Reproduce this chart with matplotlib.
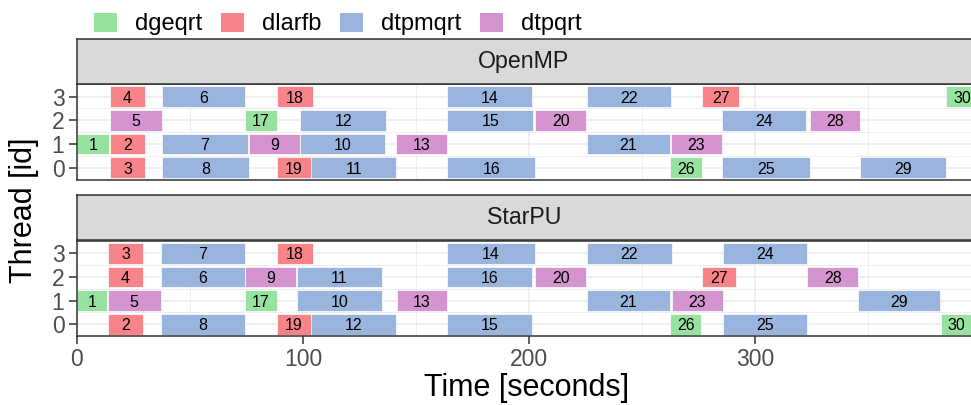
import matplotlib
matplotlib.use("Agg")
import matplotlib.pyplot as plt
from matplotlib.patches import Patch

plt.rcParams['font.family'] = ['Liberation Sans', 'DejaVu Sans']

kernels = ["dgeqrt", "dlarfb", "dtpmqrt", "dtpqrt"]
kernel_colors = ["#98E2A0", "#F8848A", "#9AB5DD", "#D394D0"]

# kernel of each task, task ids 1..30
task_kernel = ["dgeqrt", "dlarfb", "dlarfb", "dlarfb", "dtpqrt",
               "dtpmqrt", "dtpmqrt", "dtpmqrt", "dtpqrt", "dtpmqrt",
               "dtpmqrt", "dtpmqrt", "dtpqrt", "dtpmqrt", "dtpmqrt",
               "dtpmqrt", "dgeqrt", "dlarfb", "dlarfb", "dtpqrt",
               "dtpmqrt", "dtpmqrt", "dtpqrt", "dtpmqrt", "dtpmqrt",
               "dgeqrt", "dlarfb", "dtpqrt", "dtpmqrt", "dgeqrt"]

task_ids = list(range(1, 31))

# OpenMP run
openmp_thread = [1, 1, 0, 3, 2, 3, 1, 0, 1, 1,
                 0, 2, 1, 3, 2, 0, 2, 3, 0, 2,
                 1, 3, 1, 2, 0, 0, 3, 2, 0, 3]
openmp_start = [0.0, 14.6, 14.6, 14.6, 14.6, 37.7, 37.7, 37.7, 76.0, 98.9,
                103.7, 98.9, 141.3, 163.8, 163.8, 163.8, 74.4, 88.6, 88.6, 202.6,
                225.4, 225.4, 262.6, 285.3, 285.3, 262.5, 276.6, 324.1, 346.5, 384.5]
openmp_end = [14.5, 30.4, 30.4, 30.4, 37.8, 74.5, 75.6, 76.3, 98.9, 136.4,
              141.2, 136.9, 163.7, 201.5, 201.8, 202.8, 88.5, 104.3, 103.6, 225.3,
              262.4, 262.8, 285.2, 322.4, 324.0, 276.5, 292.8, 346.4, 384.4, 398.5]

# StarPU run
starpu_thread = [1, 0, 3, 2, 1, 2, 3, 0, 2, 1,
                 2, 0, 1, 3, 0, 2, 1, 3, 0, 2,
                 1, 3, 1, 3, 0, 0, 2, 2, 1, 0]
starpu_start = [0.0, 13.7, 13.7, 13.7, 13.7, 37.2, 37.2, 37.2, 74.6, 97.2,
                97.2, 103.8, 141.4, 163.7, 163.7, 163.7, 74.4, 88.6, 88.6, 202.8,
                225.4, 225.4, 263.2, 285.8, 285.8, 262.5, 276.3, 323.1, 345.4, 382.3]
starpu_end = [13.6, 29.5, 29.5, 29.5, 37.2, 74.4, 74.4, 74.5, 96.9, 135.2,
              134.9, 141.1, 163.7, 202.8, 201.4, 201.4, 88.5, 104.3, 103.6, 225.3,
              262.4, 263.1, 285.7, 322.8, 322.8, 276.2, 291.6, 345.4, 381.7, 395.6]

W, H = 971, 405
fig = plt.figure(figsize=(W / 100, H / 100), dpi=100)

L, R = 76.7, 971
def box(top, bottom):
    return [L / W, 1 - bottom / H, (R - L) / W, (bottom - top) / H]

edge = "#333333"
col_of = dict(zip(kernels, kernel_colors))

def draw_panel(ax, threads, starts, ends, bottom_axis):
    for tid, th, s, e in zip(task_ids, threads, starts, ends):
        ax.barh(th, e - s, left=s, height=0.88, color=col_of[task_kernel[tid - 1]],
                edgecolor="white", linewidth=0.5, zorder=2)
        ax.text((s + e) / 2, th, str(tid), ha="center", va="center_baseline",
                fontsize=11.5, color="black", zorder=3, clip_on=True)
    ax.set_xlim(0, 395.4)
    ax.set_ylim(-0.5, 3.55)
    ax.set_xticks([0, 100, 200, 300])
    ax.set_xticks([50, 150, 250, 350], minor=True)
    ax.set_yticks([0, 1, 2, 3])
    ax.set_yticks([0.5, 1.5, 2.5], minor=True)
    ax.set_axisbelow(True)
    ax.grid(True, which="major", color="#EBEBEB", linewidth=1.1)
    ax.grid(True, which="minor", color="#EBEBEB", linewidth=0.55)
    for side in ["left", "top", "bottom"]:
        ax.spines[side].set_color(edge)
        ax.spines[side].set_linewidth(1.1)
    ax.spines["right"].set_visible(False)
    ax.tick_params(which="minor", length=0)
    ax.tick_params(axis="y", which="major", length=5.8, width=1.1, color=edge,
                   labelcolor="#4D4D4D", labelsize=16.5, pad=3)
    if bottom_axis:
        ax.tick_params(axis="x", which="major", length=5.8, width=1.1, color=edge,
                       labelcolor="#4D4D4D", labelsize=16.5, pad=3)
    else:
        ax.tick_params(axis="x", which="major", length=0, labelbottom=False)

def draw_strip(top, bottom, label):
    s = fig.add_axes(box(top, bottom))
    s.set_facecolor("#D9D9D9")
    s.set_xticks([])
    s.set_yticks([])
    for side in ["left", "top", "bottom"]:
        s.spines[side].set_color(edge)
        s.spines[side].set_linewidth(1.1)
    s.spines["right"].set_visible(False)
    s.text(0.5, 0.5, label, transform=s.transAxes, ha="center", va="center",
           fontsize=16.7, color="#1A1A1A")

ax1 = fig.add_axes(box(83.5, 179.5))
draw_panel(ax1, openmp_thread, openmp_start, openmp_end, False)
draw_strip(39, 83.5, "OpenMP")

ax2 = fig.add_axes(box(240.5, 336))
draw_panel(ax2, starpu_thread, starpu_start, starpu_end, True)
draw_strip(195, 240.5, "StarPU")

fig.text(527 / W, 1 - 388 / H, "Time [seconds]", ha="center", va="center", fontsize=22)
fig.text(24 / W, 1 - 210 / H, "Thread [id]", ha="center", va="center",
         rotation=90, fontsize=22)

handles = [Patch(facecolor=c, edgecolor="none") for c in kernel_colors]
fig.legend(handles, kernels, ncol=4, loc="center left",
           bbox_to_anchor=(94 / W, 1 - 24 / H), frameon=False, fontsize=17,
           handlelength=0.97, handleheight=0.9, handletextpad=0.76,
           columnspacing=0.8, borderpad=0, borderaxespad=0)

fig.savefig("out.png", dpi=100)
